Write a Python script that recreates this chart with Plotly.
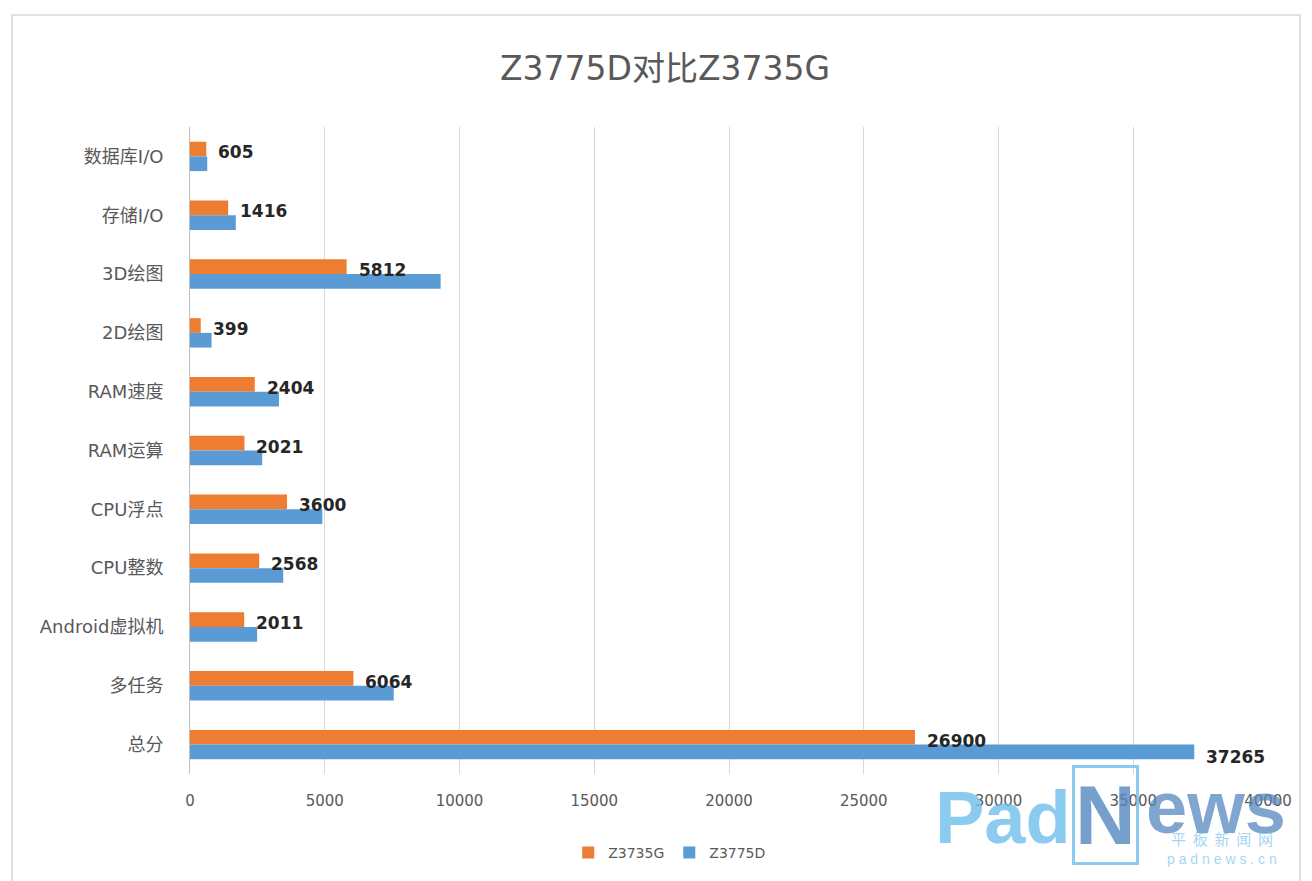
import plotly.graph_objects as go

categories = ["数据库I/O", "存储I/O", "3D绘图", "2D绘图", "RAM速度", "RAM运算",
              "CPU浮点", "CPU整数", "Android虚拟机", "多任务", "总分"]
z3735g = [605, 1416, 5812, 399, 2404, 2021, 3600, 2568, 2011, 6064, 26900]
z3775d = [640, 1700, 9300, 800, 3300, 2680, 4910, 3460, 2490, 7560, 37265]
x_ticks = [0, 5000, 10000, 15000, 20000, 25000, 30000, 35000, 40000]
series_names = ["Z3735G", "Z3775D"]

ORANGE = "#ED7D31"
BLUE = "#5B9BD5"
FONT = "DejaVu Sans, Noto Sans CJK SC, sans-serif"
CJK = "Noto Sans CJK SC, sans-serif"

fig = go.Figure()
fig.add_trace(go.Bar(y=categories, x=z3735g, orientation="h", name=series_names[0],
                     marker=dict(color=ORANGE, line=dict(width=0))))
fig.add_trace(go.Bar(y=categories, x=z3775d, orientation="h", name=series_names[1],
                     marker=dict(color=BLUE, line=dict(width=0))))

annotations = []
for c, v in zip(categories, z3735g):
    annotations.append(dict(x=v, y=c, xref="x", yref="y", text="<b>%d</b>" % v, showarrow=False,
                            xanchor="left", xshift=10, yshift=4,
                            font=dict(family=FONT, size=17, color="#262626")))
annotations.append(dict(x=z3775d[-1], y=categories[-1], xref="x", yref="y",
                        text="<b>%d</b>" % z3775d[-1], showarrow=False, xanchor="left",
                        xshift=10, yshift=-12,
                        font=dict(family=FONT, size=17, color="#262626")))

# PadNews watermark
WM_FONT = "Liberation Sans, Arial, sans-serif"
annotations += [
    dict(x=0.754, y=-0.068, xref="paper", yref="paper", text="<b>Pad</b>", showarrow=False,
         xanchor="center", yanchor="middle",
         font=dict(family=WM_FONT, size=74, color="rgba(110,190,235,0.8)")),
    dict(x=0.849, y=-0.063, xref="paper", yref="paper", text="<b>N</b>", showarrow=False,
         xanchor="center", yanchor="middle", bordercolor="rgba(110,190,235,0.8)",
         borderwidth=3, borderpad=0,
         font=dict(family=WM_FONT, size=84, color="rgba(85,135,190,0.8)")),
    dict(x=0.952, y=-0.052, xref="paper", yref="paper", text="<b>ews</b>", showarrow=False,
         xanchor="center", yanchor="middle",
         font=dict(family=WM_FONT, size=74, color="rgba(85,135,190,0.75)")),
    dict(x=0.957, y=-0.099, xref="paper", yref="paper", text="平  板  新  闻  网",
         showarrow=False, xanchor="center", yanchor="middle",
         font=dict(family=CJK, size=15, color="rgba(110,190,235,0.65)")),
    dict(x=0.957, y=-0.131, xref="paper", yref="paper", text="p a d n e w s . c n",
         showarrow=False, xanchor="center", yanchor="middle",
         font=dict(family=WM_FONT, size=14, color="rgba(110,190,235,0.65)")),
]

fig.update_layout(
    width=1312, height=881,
    margin=dict(l=182, r=52, t=119, b=115),
    paper_bgcolor="white", plot_bgcolor="white",
    title=dict(text="Z3775D对比Z3735G", x=657 / 1312, xanchor="center",
               xref="container", y=1 - 60 / 881, yanchor="middle",
               font=dict(family=FONT, size=33, color="#595959")),
    barmode="group", bargap=0.5, bargroupgap=0,
    showlegend=True,
    legend=dict(orientation="h", x=0.445, xanchor="center", y=-0.122, yanchor="middle",
                font=dict(family=FONT, size=14, color="#595959"), itemwidth=30),
    xaxis=dict(range=[0, 40000], tickvals=x_ticks, ticktext=[str(t) for t in x_ticks],
               showgrid=True, gridcolor="#D9D9D9", gridwidth=1, zeroline=False,
               showline=False, ticks="", ticklabelstandoff=16,
               tickfont=dict(family=FONT, size=15, color="#595959")),
    yaxis=dict(autorange="reversed", showline=True, linecolor="#BFBFBF", linewidth=1,
               ticks="", ticklabelstandoff=22, showgrid=False,
               tickfont=dict(family=FONT, size=18, color="#595959")),
    annotations=annotations,
    shapes=[dict(type="rect", xref="paper", yref="paper",
                 x0=-0.165, x1=1.0297, y0=-0.25, y1=1.173,
                 line=dict(color="#D9D9D9", width=1.5))],
)

fig.write_html("out.html")
